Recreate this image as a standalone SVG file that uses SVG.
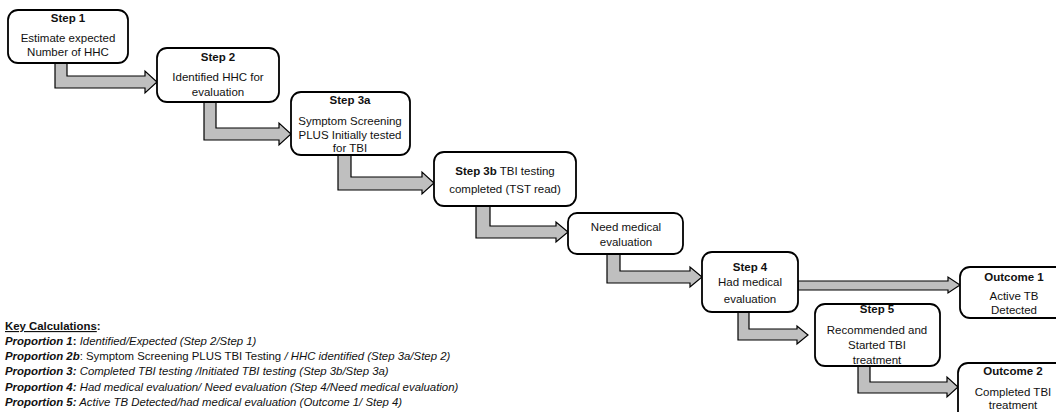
<svg xmlns="http://www.w3.org/2000/svg" width="1056" height="412" viewBox="0 0 1056 412">
<style>
.box{fill:#fff;stroke:#000;stroke-width:1.8}
.arr{fill:#bfbfbf;stroke:#000;stroke-width:1.2;stroke-linejoin:miter}
text{font-family:"Liberation Sans",Arial,sans-serif;font-size:11.5px;fill:#111}
.c{text-anchor:middle}
.b{font-weight:bold}
.i{font-style:italic}
.bi{font-weight:bold;font-style:italic}
.k{font-size:11.4px}
</style>
<rect width="1056" height="412" fill="#fff"/>
<g id="connectors">
<path class="arr" d="M55,63 V88 H145 V93 L157,82 L145,71 V76 H67 V63 Z"/>
<path class="arr" d="M204,102 V140 H279 V145 L291,134 L279,123 V128 H216 V102 Z"/>
<path class="arr" d="M338,155 V190 H422 V194 L434,183 L422,172 V177 H351 V155 Z"/>
<path class="arr" d="M476,206 V238 H556 V242 L568,232 L556,222 V226 H490 V206 Z"/>
<path class="arr" d="M607,254 V283 H690 V287 L702,277 L690,267 V271 H620 V254 Z"/>
<path class="arr" d="M798,281 H948 V277 L960,285 L948,293 V290 H798 Z"/>
<path class="arr" d="M738,312 V340 H797 V344 L808,335 L797,326 V329 H749 V312 Z"/>
<path class="arr" d="M858,366 V393 H947 V397 L958,387 L947,377 V382 H870 V366 Z"/>
</g>
<g id="step1">
<rect class="box" x="8" y="10" width="120" height="53" rx="10"/>
<text class="c b" x="68" y="22">Step 1</text>
<text class="c" x="68" y="42">Estimate expected</text>
<text class="c" x="68" y="56">Number  of HHC</text>
</g>
<g id="step2">
<rect class="box" x="157" y="48" width="122" height="54" rx="10"/>
<text class="c b" x="218" y="61">Step 2</text>
<text class="c" x="218" y="81">Identified HHC for</text>
<text class="c" x="218" y="96">evaluation</text>
</g>
<g id="step3a">
<rect class="box" x="291" y="92" width="119" height="63" rx="10"/>
<text class="c b" x="350" y="104">Step 3a</text>
<text class="c" x="350" y="125">Symptom Screening</text>
<text class="c" x="350" y="139">PLUS Initially tested</text>
<text class="c" x="350" y="152">for TBI</text>
</g>
<g id="step3b">
<rect class="box" x="434" y="152" width="142" height="54" rx="10"/>
<text class="c" x="505" y="175"><tspan class="b">Step 3b</tspan> TBI testing</text>
<text class="c" x="505" y="193">completed  (TST read)</text>
</g>
<g id="need">
<rect class="box" x="568" y="213" width="115" height="41" rx="9"/>
<text class="c" x="626" y="231">Need medical</text>
<text class="c" x="626" y="246">evaluation</text>
</g>
<g id="step4">
<rect class="box" x="702" y="252" width="96" height="60" rx="10"/>
<text class="c b" x="750" y="271">Step 4</text>
<text class="c" x="750" y="286">Had medical</text>
<text class="c" x="750" y="303">evaluation</text>
</g>
<g id="outcome1">
<rect class="box" x="960" y="267" width="110" height="51" rx="10"/>
<text class="c b" x="1014" y="281">Outcome 1</text>
<text class="c" x="1014" y="300">Active TB</text>
<text class="c" x="1014" y="314">Detected</text>
</g>
<g id="step5">
<rect class="box" x="815" y="304" width="125" height="62" rx="10"/>
<text class="c b" x="877" y="313">Step 5</text>
<text class="c" x="877" y="334">Recommended  and</text>
<text class="c" x="877" y="349">Started TBI</text>
<text class="c" x="877" y="364">treatment</text>
</g>
<g id="outcome2">
<rect class="box" x="958" y="363" width="112" height="60" rx="10"/>
<text class="c b" x="1013" y="375">Outcome 2</text>
<text class="c" x="1013" y="396">Completed TBI</text>
<text class="c" x="1013" y="409">treatment</text>
</g>
<g id="key">
<text class="k" x="5" y="330"><tspan class="b" text-decoration="underline">Key Calculations</tspan><tspan class="b">:</tspan></text>
<text class="k" x="5" y="345"><tspan class="bi">Proportion 1</tspan><tspan class="b">:</tspan><tspan class="i"> Identified/Expected (Step 2/Step 1)</tspan></text>
<text class="k" x="5" y="360"><tspan class="bi">Proportion 2b</tspan>: Symptom  Screening PLUS TBI Testing <tspan class="i">/ HHC identified (Step 3a/Step 2)</tspan></text>
<text class="k" x="5" y="375"><tspan class="bi">Proportion 3:</tspan><tspan class="i"> Completed TBI testing /Initiated TBI testing (Step 3b/Step  3a)</tspan></text>
<text class="k" x="5" y="391"><tspan class="bi">Proportion 4:</tspan><tspan class="i"> Had medical evaluation/ Need evaluation (Step 4/Need medical evaluation)</tspan></text>
<text class="k" x="5" y="406"><tspan class="bi">Proportion 5:</tspan><tspan class="i"> Active TB Detected/had medical evaluation (Outcome 1/ Step 4)</tspan></text>
</g>
</svg>
